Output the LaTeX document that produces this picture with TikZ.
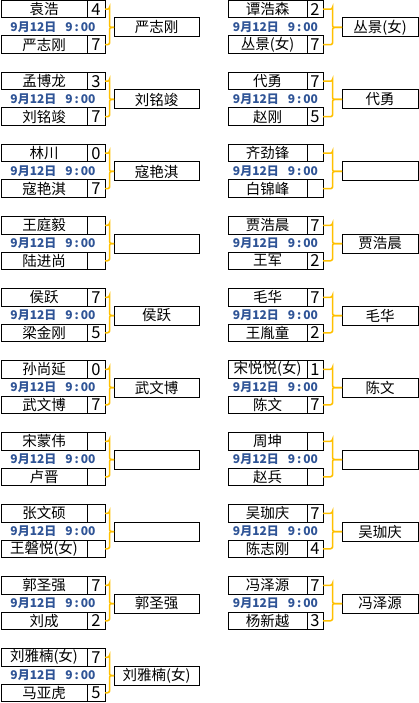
\documentclass[tikz,border=0pt]{standalone}
\usepackage{fontspec}
\setmainfont{Noto Sans CJK SC}
\usetikzlibrary{calc}
\definecolor{datecol}{RGB}{47,84,150}
\definecolor{linkcol}{RGB}{255,192,0}
\tikzset{
  cell/.style={draw,line width=1pt,inner sep=0pt,outer sep=0pt},
  namebox/.style={cell,minimum height=17.5,anchor=north west,font=\fontsize{14.5}{15}\selectfont},
  scorebox/.style={cell,minimum height=17.5,anchor=west,font=\fontsize{16.5}{17}\selectfont},
  winbox/.style={cell,minimum height=19,anchor=north west,font=\fontsize{14.5}{15}\selectfont},
  datetext/.style={text=datecol,inner sep=0pt,font=\bfseries\fontsize{12}{12}\selectfont},
  link/.style={linkcol,line width=1.5pt,rounded corners=2pt}
}
% column settings: name box x, name width, score width, winner x, winner width
\def\leftcol{\def\nx{1}\def\nw{86}\def\sw{18}\def\wx{114}\def\ww{85}}
\def\rightcol{\def\nx{228}\def\nw{79}\def\sw{16}\def\wx{342}\def\ww{76}}
% \match{id}{row}{name1}{score1}{name2}{score2}{winner}
\newcommand\match[7]{%
  \node[namebox,minimum width=\nw] (#1a) at (\nx,0.5+72*#2) {#3};
  \node[scorebox,minimum width=\sw] (#1as) at (#1a.east) {#4};
  \node[namebox,minimum width=\nw] (#1b) at (\nx,36+72*#2) {#5};
  \node[scorebox,minimum width=\sw] (#1bs) at (#1b.east) {#6};
  \node[datetext] (#1d) at (\nx+\nw/2+\sw/2,27+72*#2) {9月12日\hspace{0.75em}9\,:\,00};
  \node[winbox,minimum width=\ww] (#1w) at (\wx,18+72*#2) {#7};
  \draw[link] (#1as.east) -| ($(#1as.east)!.5!(#1as.east -| #1w.west)$) |- (#1w.west);
  \draw[link] (#1bs.east) -| ($(#1bs.east)!.5!(#1bs.east -| #1w.west)$) |- (#1w.west);
}
\begin{document}
\begin{tikzpicture}[x=1pt,y=-1pt]
  \useasboundingbox (0,0) rectangle (419,703);
  % left column
  \leftcol
  \match{l0}{0}{袁浩}{4}{严志刚}{7}{严志刚}
  \match{l1}{1}{孟博龙}{3}{刘铭竣}{7}{刘铭竣}
  \match{l2}{2}{林川}{0}{寇艳淇}{7}{寇艳淇}
  \match{l3}{3}{王庭毅}{}{陆进尚}{}{}
  \match{l4}{4}{侯跃}{7}{梁金刚}{5}{侯跃}
  \match{l5}{5}{孙尚延}{0}{武文博}{7}{武文博}
  \match{l6}{6}{宋蒙伟}{}{卢晋}{}{}
  \match{l7}{7}{张文硕}{}{王磐悦(女)}{}{}
  \match{l8}{8}{郭圣强}{7}{刘成}{2}{郭圣强}
  \match{l9}{9}{刘雅楠(女)}{7}{马亚虎}{5}{刘雅楠(女)}
  % right column
  \rightcol
  \match{r0}{0}{谭浩森}{2}{丛景(女)}{7}{丛景(女)}
  \match{r1}{1}{代勇}{7}{赵刚}{5}{代勇}
  \match{r2}{2}{齐劲锋}{}{白锦峰}{}{}
  \match{r3}{3}{贾浩晨}{7}{王军}{2}{贾浩晨}
  \match{r4}{4}{毛华}{7}{王胤童}{2}{毛华}
  \match{r5}{5}{宋悦悦(女)}{1}{陈文}{7}{陈文}
  \match{r6}{6}{周坤}{}{赵兵}{}{}
  \match{r7}{7}{吴珈庆}{7}{陈志刚}{4}{吴珈庆}
  \match{r8}{8}{冯泽源}{7}{杨新越}{3}{冯泽源}
\end{tikzpicture}
\end{document}
